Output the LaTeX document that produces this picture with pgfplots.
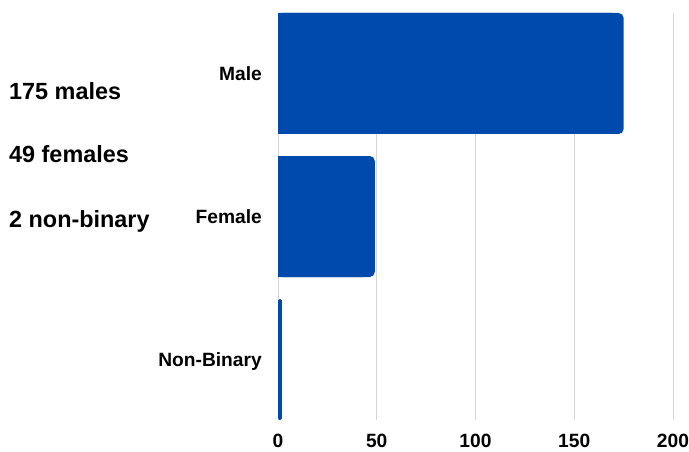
\documentclass[border=0pt]{standalone}
\usepackage{pgfplots}
\pgfplotsset{compat=1.18}
\usepackage{pgfplotstable}
\usepackage{fontspec}
\setmainfont{Liberation Sans}
\definecolor{barblue}{RGB}{0,74,173}
\definecolor{gridgray}{RGB}{214,214,214}
\pgfplotstableread{
pos value
0 2
1 49
2 175
}\gender
\begin{document}
\begin{tikzpicture}[x=1pt,y=1pt]
\useasboundingbox (0,0) rectangle (689,451);
\begin{axis}[
  at={(278pt,31pt)}, anchor=south west,
  scale only axis, width=395pt, height=407pt,
  xmin=0, xmax=200, ymin=-0.423, ymax=2.423,
  xtick={0,50,100,150,200},
  ytick={0,1,2},
  yticklabels={Non-Binary,Female,Male},
  axis line style={draw=none},
  major tick length=0pt,
  xmajorgrids, major grid style={gridgray, line width=1pt},
  /pgf/number format/assume math mode=true,
  tick label style={font=\fontsize{19.2}{22}\selectfont\bfseries, inner sep=0pt},
  yticklabel style={xshift=-16pt, text depth=0pt},
  xticklabel style={yshift=-14pt},
  xbar, bar width=121pt, bar shift=0pt,
  clip=false,
]
% bars with a rounded right end (large values)
\addplot[fill=barblue, draw=none, rounded corners=5pt, x filter/.expression={x>10 ? x : nan}] table[x=value, y=pos] {\gender};
% square left end for the large bars
\addplot[fill=barblue, draw=none, x filter/.expression={x>10 ? x-6 : nan}] table[x=value, y=pos] {\gender};
% small bars
\addplot[fill=barblue, draw=none, rounded corners=1.5pt, x filter/.expression={x<=10 ? x : nan}] table[x=value, y=pos] {\gender};
\end{axis}
\node[anchor=base west, inner sep=0pt, font=\fontsize{23.4}{26}\selectfont\bfseries] at (9,352) {175 males};
\node[anchor=base west, inner sep=0pt, font=\fontsize{23.4}{26}\selectfont\bfseries] at (9,288) {49 females};
\node[anchor=base west, inner sep=0pt, font=\fontsize{23.4}{26}\selectfont\bfseries] at (9,224) {2 non-binary};
\end{tikzpicture}
\end{document}
